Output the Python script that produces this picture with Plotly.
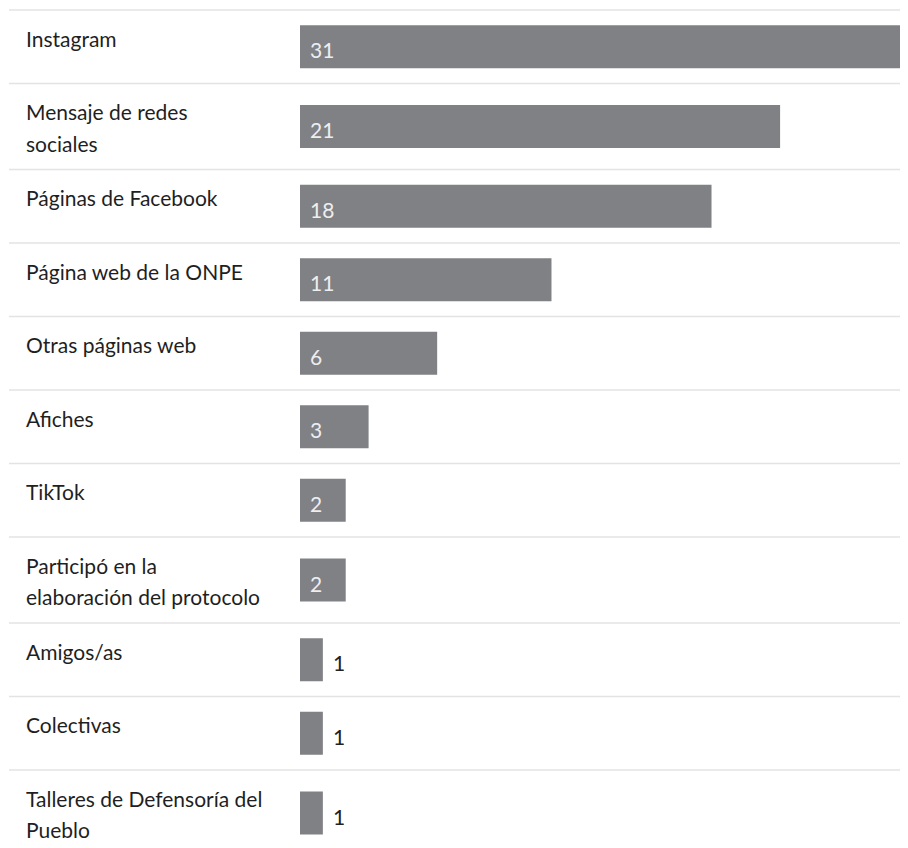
import plotly.graph_objects as go

categories = [
    "Instagram",
    "Mensaje de redes<br>sociales",
    "Páginas de Facebook",
    "Página web de la ONPE",
    "Otras páginas web",
    "Afiches",
    "TikTok",
    "Participó en la<br>elaboración del protocolo",
    "Amigos/as",
    "Colectivas",
    "Talleres de Defensoría del<br>Pueblo",
]
values = [31, 21, 18, 11, 6, 3, 2, 2, 1, 1, 1]

# page has an 8px body margin; work in figure pixels
OFF = 8
W, H = 908 - OFF, 848 - OFF
ROW_SINGLE, ROW_DOUBLE = 73.5, 86
FIRST_TOP = 10 - OFF
BAR_COLOR = "#808185"
FONT = "Lato"
FS = 21

tops, centers = [], []
y = FIRST_TOP
for c in categories:
    n = c.count("<br>") + 1
    h = ROW_SINGLE if n == 1 else ROW_DOUBLE
    tops.append(y)
    centers.append(y + h / 2)
    y += h

fig = go.Figure()
fig.add_trace(go.Bar(
    x=values, y=centers, orientation="h", width=43,
    marker=dict(color=BAR_COLOR, line=dict(width=0)),
    hoverinfo="skip", cliponaxis=True,
))

shapes = []
for t in tops:
    shapes.append(dict(type="line", xref="paper", yref="y", x0=(9 - OFF) / W, x1=1,
                       y0=t, y1=t, line=dict(color="#e3e3e3", width=1.5), layer="below"))

annotations = []
for c, t in zip(categories, tops):
    for i, line in enumerate(c.split("<br>")):
        annotations.append(dict(
            x=(24 - OFF) / W, xref="paper", y=t + 28 + i * 31.6, yref="y",
            text=line, showarrow=False, xanchor="left", yanchor="middle",
            font=dict(family=FONT, size=FS, color="#1f1f1f"),
        ))
for v, cy in zip(values, centers):
    if v >= 2:
        annotations.append(dict(
            x=0, xref="x", y=cy + 3, yref="y", text=str(v), showarrow=False,
            xanchor="left", yanchor="middle", xshift=8,
            font=dict(family=FONT, size=FS, color="#eeeeee"),
        ))
    else:
        annotations.append(dict(
            x=v, xref="x", y=cy + 3, yref="y", text=str(v), showarrow=False,
            xanchor="left", yanchor="middle", xshift=8,
            font=dict(family=FONT, size=FS, color="#222222"),
        ))

fig.update_layout(
    width=W, height=H,
    margin=dict(l=0, r=0, t=0, b=0),
    paper_bgcolor="white", plot_bgcolor="white",
    showlegend=False,
    xaxis=dict(domain=[(300 - OFF) / W, (904.7 - OFF) / W], range=[0, 26.45],
               visible=False, fixedrange=True),
    yaxis=dict(range=[H, 0], visible=False, fixedrange=True),
    shapes=shapes, annotations=annotations,
    font=dict(family=FONT),
)

fig.write_html("out.html")
